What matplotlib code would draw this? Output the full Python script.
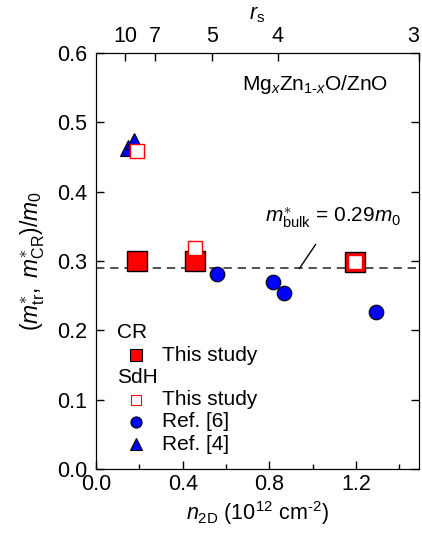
import numpy as np
import matplotlib
matplotlib.use('Agg')
import matplotlib.pyplot as plt

plt.rcParams['font.family'] = ['Liberation Sans', 'DejaVu Sans']
plt.rcParams['mathtext.fontset'] = 'custom'
plt.rcParams['mathtext.rm'] = 'Liberation Sans'
plt.rcParams['mathtext.it'] = 'Liberation Sans:italic'
plt.rcParams['mathtext.bf'] = 'Liberation Sans:bold'

# datos
cr_n = [0.188, 0.457, 1.196]
cr_m = [0.300, 0.300, 0.299]

sdh_n = [0.188, 0.457, 1.196]
sdh_m = [0.459, 0.319, 0.299]

ref6_n = [0.557, 0.816, 0.865, 1.293]
ref6_m = [0.281, 0.270, 0.2535, 0.227]

ref4_n = [0.148, 0.177]
ref4_m = [0.4625, 0.4725]

m_bulk = 0.29

# eje superior r_s ~ 1/sqrt(n)
rs_ticks = [10, 7, 5, 4, 3]
C_rs = 13.4

fs = 15.5

fig = plt.figure(figsize=(4.22, 5.35), dpi=100)
ax = fig.add_axes([96/422, 66/535, 323/422, 416/535])

ax.axhline(m_bulk, color='#333333', lw=1.2, ls=(0, (5, 3.5)), zorder=1)

ax.plot(ref4_n, ref4_m, '^', ms=11, mfc='blue', mec='black', mew=0.8, zorder=3)
ax.plot(cr_n, cr_m, 's', ms=14, mfc='red', mec='black', mew=1.0, zorder=3)
ax.plot(sdh_n, sdh_m, 's', ms=9.5, mfc='white', mec='red', mew=1.0, zorder=4)
ax.plot(ref6_n, ref6_m, 'o', ms=10.5, mfc='blue', mec='black', mew=0.8, zorder=3)

ax.set_xlim(0, 1.49)
ax.set_ylim(0, 0.6)
ax.set_xticks([0.0, 0.4, 0.8, 1.2])
ax.set_xticks([0.2, 0.6, 1.0, 1.4], minor=True)
ax.set_yticks(np.round(np.arange(0, 0.61, 0.1), 1))
ax.set_xticklabels(['0.0', '0.4', '0.8', '1.2'])
ax.set_yticklabels(['%.1f' % v for v in np.arange(0, 0.61, 0.1)])
ax.tick_params(which='both', direction='in', right=True, labelsize=fs)
ax.tick_params(which='major', length=6, width=1)
ax.tick_params(which='minor', length=3.5, width=1)
ax.tick_params(axis='y', pad=6.5)

ax.set_xlabel(r'$n_{\rm 2D}$ (10$^{12}$ cm$^{\text{-}2}$)', fontsize=fs, labelpad=3)
ax.set_ylabel(r'$(m^{\ast}_{\rm tr},\ m^{\ast}_{\rm CR})/m_0$', fontsize=16.5, labelpad=7)

ax2 = ax.twiny()
ax2.set_xlim(ax.get_xlim())
ax2.set_xticks([C_rs / r**2 for r in rs_ticks])
ax2.set_xticklabels([str(r) for r in rs_ticks])
ax2.tick_params(direction='in', length=6, width=1, labelsize=fs, pad=4)
ax2.get_xticklabels()[-1].set_horizontalalignment('right')
ax2.set_xlabel(r'$r_{\rm s}$', fontsize=fs, labelpad=5)

ax.text(0.674, 0.554, r'Mg$_x$Zn$_{1\text{-}x}$O/ZnO', fontsize=15, ha='left', va='center')
ax.annotate(r'$m^{\ast}_{\rm bulk}$ = 0.29$m_0$', xy=(0.938, 0.289), xytext=(1.095, 0.362),
            fontsize=15, ha='center', va='center',
            arrowprops=dict(arrowstyle='-', color='black', lw=1, shrinkA=10, shrinkB=0))

# leyenda manual
tr = ax.transAxes
xh, xm, xt = 0.065, 0.124, 0.204
ax.text(xh, 0.329, 'CR', transform=tr, fontsize=15, va='center')
ax.plot(xm, 0.274, 's', transform=tr, ms=8, mfc='red', mec='black', mew=0.8, clip_on=False)
ax.text(xt, 0.274, 'This study', transform=tr, fontsize=15, va='center')
ax.text(xh, 0.221, 'SdH', transform=tr, fontsize=15, va='center')
ax.plot(xm, 0.167, 's', transform=tr, ms=7.5, mfc='white', mec='red', mew=0.8, clip_on=False)
ax.text(xt, 0.167, 'This study', transform=tr, fontsize=15, va='center')
ax.plot(xm, 0.113, 'o', transform=tr, ms=8, mfc='blue', mec='black', mew=0.8, clip_on=False)
ax.text(xt, 0.113, 'Ref. [6]', transform=tr, fontsize=15, va='center')
ax.plot(xm, 0.060, '^', transform=tr, ms=8, mfc='blue', mec='black', mew=0.8, clip_on=False)
ax.text(xt, 0.060, 'Ref. [4]', transform=tr, fontsize=15, va='center')

fig.savefig('out.png', dpi=100)
